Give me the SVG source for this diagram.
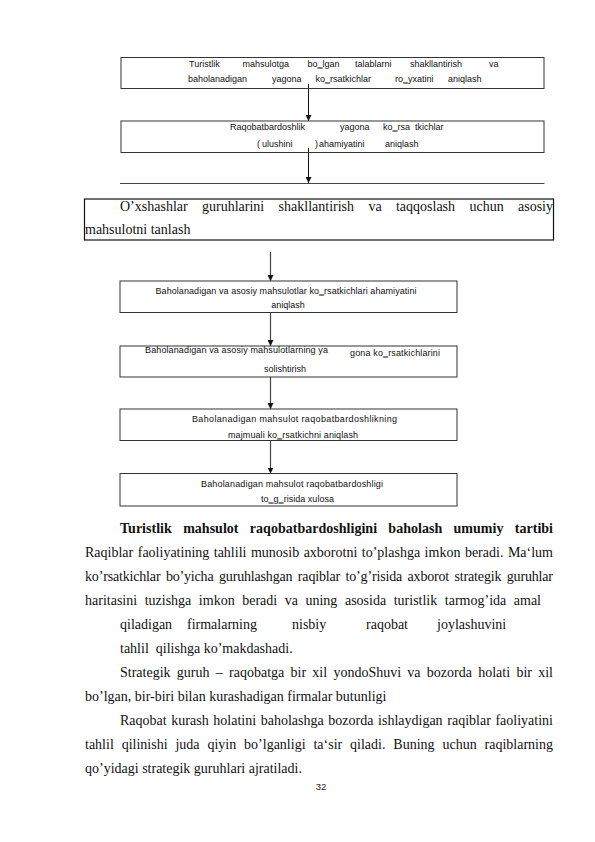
<svg xmlns="http://www.w3.org/2000/svg" width="595" height="842" viewBox="0 0 595 842">
<style>
.box{fill:none;stroke:#333;stroke-width:1}
.bt{font-family:"Liberation Sans",Arial,sans-serif;font-size:9px;fill:#111}
.body{font-family:"Liberation Serif","Times New Roman",serif;font-size:14px;fill:#111}
.bold{font-weight:bold}
.conn{fill:none;stroke:#111;stroke-width:1}
.conn2{fill:none;stroke:#444;stroke-width:1.2}
.pg{font-family:"Liberation Sans",Arial,sans-serif;font-size:9.5px;fill:#222}
</style>
<defs>
<marker id="arr" viewBox="0 0 6 6" refX="6" refY="3" markerWidth="6" markerHeight="6" markerUnits="userSpaceOnUse" orient="auto">
<path d="M0,0 L6,3 L0,6 z" fill="#111"/>
</marker>
</defs>
<rect width="595" height="842" fill="#fff"/>
<g id="connectors">
<line class="conn" x1="308.5" y1="84" x2="308.5" y2="121" marker-end="url(#arr)"/>
<line class="conn" x1="308.5" y1="148" x2="308.5" y2="183" marker-end="url(#arr)"/>
<line class="conn2" x1="120" y1="183.5" x2="544.5" y2="183.5"/>
<line class="conn2" x1="270.5" y1="252" x2="270.5" y2="281" marker-end="url(#arr)"/>
<line class="conn2" x1="270.5" y1="312" x2="270.5" y2="346" marker-end="url(#arr)"/>
<line class="conn2" x1="270.5" y1="377" x2="270.5" y2="409" marker-end="url(#arr)"/>
<line class="conn2" x1="270.5" y1="440.5" x2="270.5" y2="473.5" marker-end="url(#arr)"/>
</g>
<g id="n1">
<rect class="box" x="121" y="57.5" width="423" height="31"/>
<text class="bt" y="67"><tspan x="189">Turistlik</tspan><tspan x="242.5">mahsulotga</tspan><tspan x="307.5">bo‗lgan</tspan><tspan x="355">talablarni</tspan><tspan x="410">shakllantirish</tspan><tspan x="489">va</tspan></text>
<text class="bt" y="82"><tspan x="188">baholanadigan</tspan><tspan x="272">yagona</tspan><tspan x="315.5">ko‗rsatkichlar</tspan><tspan x="395">ro‗yxatini</tspan><tspan x="448">aniqlash</tspan></text>
</g>
<g id="n2">
<rect class="box" x="121" y="121" width="423" height="31.5"/>
<text class="bt" y="129.5"><tspan x="230">Raqobatbardoshlik</tspan><tspan x="340">yagona</tspan><tspan x="383">ko‗rsa</tspan><tspan x="415">tkichlar</tspan></text>
<text class="bt" y="147"><tspan x="257">(</tspan><tspan x="262">ulushini</tspan><tspan x="315">)</tspan><tspan x="319">ahamiyatini</tspan><tspan x="385">aniqlash</tspan></text>
</g>
<g id="n3">
<rect x="84.5" y="199" width="469" height="41" fill="none" stroke="#111" stroke-width="1.2"/>
<text class="body" x="120" y="211" word-spacing="10.85" textLength="433" lengthAdjust="spacing">O’xshashlar guruhlarini shakllantirish va taqqoslash uchun asosiy</text>
<text class="body" x="85" y="233.5">mahsulotni tanlash</text>
</g>
<g id="n4">
<rect class="box" x="120" y="281" width="337" height="31.5"/>
<text class="bt" x="155.5" y="294" textLength="261" lengthAdjust="spacing">Baholanadigan va asosiy mahsulotlar ko‗rsatkichlari ahamiyatini</text>
<text class="bt" x="288" y="308" text-anchor="middle">aniqlash</text>
</g>
<g id="n5">
<rect class="box" x="120" y="346" width="337" height="31"/>
<text class="bt" x="145" y="353" textLength="183" lengthAdjust="spacing">Baholanadigan va asosiy mahsulotlarning ya</text>
<text class="bt" x="350" y="356" textLength="90" lengthAdjust="spacing">gona ko‗rsatkichlarini</text>
<text class="bt" x="285" y="371.5" text-anchor="middle">solishtirish</text>
</g>
<g id="n6">
<rect class="box" x="120" y="409" width="337" height="31.5"/>
<text class="bt" x="192" y="422" textLength="205" lengthAdjust="spacing">Baholanadigan mahsulot raqobatbardoshlikning</text>
<text class="bt" x="228" y="438" textLength="130" lengthAdjust="spacing">majmuali ko‗rsatkichni aniqlash</text>
</g>
<g id="n7">
<rect class="box" x="120" y="473.5" width="337" height="32.5"/>
<text class="bt" x="201" y="486.5" textLength="182" lengthAdjust="spacing">Baholanadigan mahsulot raqobatbardoshligi</text>
<text class="bt" x="261" y="502" textLength="73" lengthAdjust="spacing">to‗g‗risida xulosa</text>
</g>
<g id="bodytext">
<text class="body bold" x="120" y="533" word-spacing="7.8" textLength="433" lengthAdjust="spacing">Turistlik mahsulot raqobatbardoshligini baholash umumiy tartibi</text>
<text class="body" x="85" y="557" word-spacing="1" textLength="468" lengthAdjust="spacing">Raqiblar faoliyatining tahlili  munosib axborotni to’plashga imkon beradi. Ma‘lum</text>
<text class="body" x="85" y="581" word-spacing="2.16" textLength="468" lengthAdjust="spacing">ko’rsatkichlar bo’yicha guruhlashgan raqiblar to’g’risida axborot strategik guruhlar</text>
<text class="body" x="85" y="605" word-spacing="4.04" textLength="456" lengthAdjust="spacing">haritasini tuzishga imkon beradi va uning asosida turistlik tarmog’ida amal</text>
<text class="body" y="629"><tspan x="120">qiladigan</tspan><tspan x="187">firmalarning</tspan><tspan x="292">nisbiy</tspan><tspan x="366">raqobat</tspan><tspan x="437">joylashuvini</tspan></text>
<text class="body" y="653"><tspan x="120">tahlil</tspan><tspan x="155.8">qilishga ko’makdashadi.</tspan></text>
<text class="body" x="120" y="677" word-spacing="2.77" textLength="433" lengthAdjust="spacing">Strategik guruh – raqobatga bir xil yondoShuvi va bozorda holati bir xil</text>
<text class="body" x="85" y="701">bo’lgan, bir-biri bilan kurashadigan firmalar butunligi</text>
<text class="body" x="120" y="725" word-spacing="1.14" textLength="433" lengthAdjust="spacing">Raqobat kurash holatini baholashga bozorda ishlaydigan raqiblar faoliyatini</text>
<text class="body" x="85" y="749" word-spacing="4.38" textLength="468" lengthAdjust="spacing">tahlil qilinishi juda qiyin bo’lganligi ta‘sir qiladi. Buning uchun raqiblarning</text>
<text class="body" x="85" y="773">qo’yidagi strategik guruhlari ajratiladi.</text>
<text class="pg" x="321" y="790" text-anchor="middle">32</text>
</g>
</svg>
